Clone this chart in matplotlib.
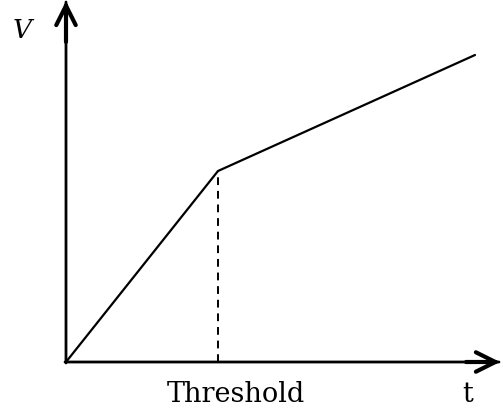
import matplotlib
matplotlib.use("Agg")
import matplotlib.pyplot as plt

# Puntos de la curva V(t): origen, umbral, final
t_vals = [0, 1.52, 4.09]
v_vals = [0, 1.91, 3.07]
threshold_t = 1.52
threshold_v = 1.91

fig = plt.figure(figsize=(5.03, 4.14), dpi=100)
ax = fig.add_axes([0, 0, 1, 1])
ax.set_xlim(-0.66, 4.37)
ax.set_ylim(-0.51, 3.63)
ax.axis("off")

# Ejes (linea) y puntas de flecha mas gruesas
shaft = dict(arrowstyle="-", lw=2.0, color="black", shrinkA=0, shrinkB=0)
head = dict(arrowstyle="->,head_length=1.4,head_width=0.7", lw=3.0, color="black",
            shrinkA=0, shrinkB=0, joinstyle="miter")
ax.annotate("", xy=(4.33, 0), xytext=(-0.01, 0), arrowprops=shaft)
ax.annotate("", xy=(4.34, 0), xytext=(4.0, 0), arrowprops=head)
ax.annotate("", xy=(0, 3.6), xytext=(0, -0.01), arrowprops=shaft)
ax.annotate("", xy=(0, 3.61), xytext=(0, 3.2), arrowprops=head)

# Curva y linea del umbral
ax.plot(t_vals, v_vals, color="black", lw=1.6, solid_capstyle="round")
ax.plot([threshold_t, threshold_t], [0, threshold_v], color="black", lw=1.4,
        linestyle=(0, (4, 3)))

# Etiquetas
ax.text(-0.44, 3.32, "V", fontsize=19, style="italic", family="DejaVu Serif",
        ha="center", va="center")
ax.text(1.70, -0.32, "Threshold", fontsize=19.5, family="DejaVu Serif",
        ha="center", va="center")
ax.text(4.02, -0.32, "t", fontsize=19.5, family="DejaVu Serif", ha="center", va="center")

fig.savefig("out.png", dpi=100)
